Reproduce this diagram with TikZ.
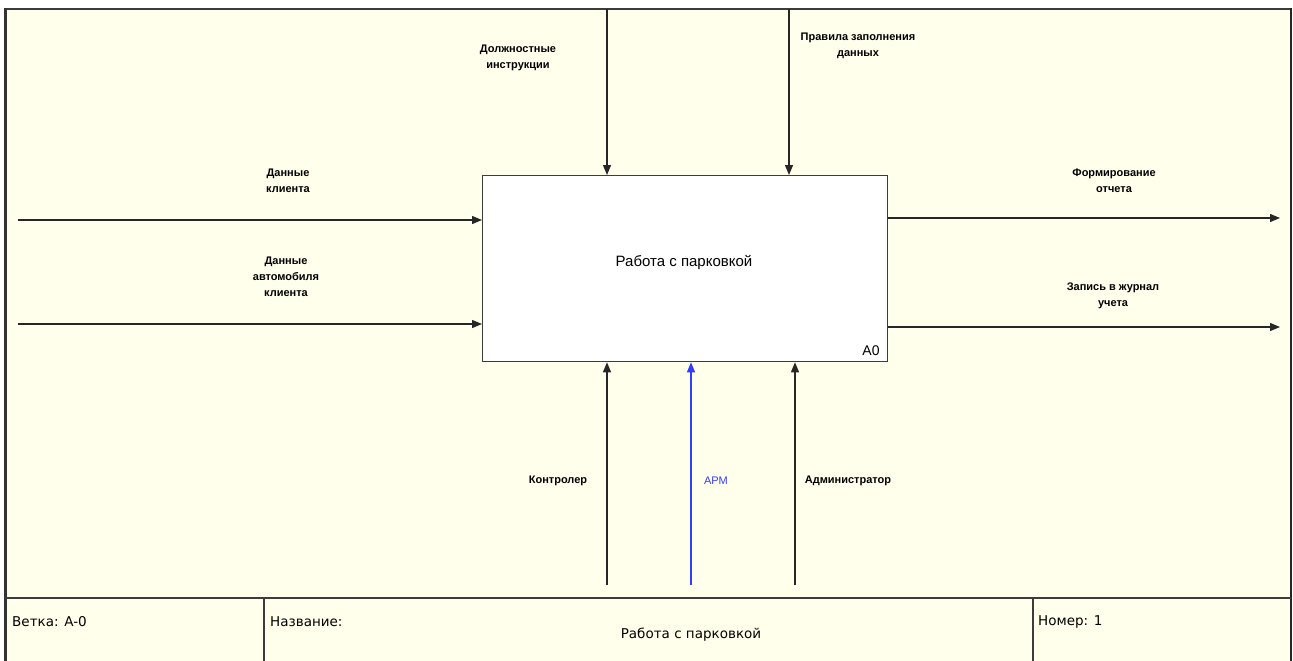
\documentclass[tikz,border=0pt]{standalone}
\usepackage{fontspec}
\setmainfont{Liberation Sans}
\newfontfamily\formfont{DejaVu Sans}
\usetikzlibrary{arrows.meta}
\definecolor{sheet}{RGB}{255,255,236}
\definecolor{edge}{RGB}{60,60,60}
\definecolor{mech}{RGB}{50,60,255}
\tikzset{
	arr/.style={-{Triangle[length=10pt,width=8pt]}, line width=1.2pt, draw=black!85},
	lbl/.style={font=\bfseries\fontsize{11}{16}\selectfont, align=center, inner sep=0pt},
	formtext/.style={font=\formfont\fontsize{13.5}{16}\selectfont, inner sep=0pt}
}
\begin{document}
\begin{tikzpicture}[x=1pt, y=-1pt]

	\useasboundingbox (0,0) rectangle (1293,661);
	\fill [sheet] (5,9) rectangle (1291,661);
	\draw [line width=2pt, draw=edge] (4,9) -- (1292,9);
	\draw [line width=3pt, draw=black!80] (5.5,8) -- (5.5,661);
	\draw [line width=2pt, draw=black!85] (1291,8) -- (1291,661);
	\draw [line width=1.5pt, draw=edge] (5,598) -- (1291,598);
	\draw [line width=1.5pt, draw=edge] (264,598) -- (264,661);
	\draw [line width=1.5pt, draw=edge] (1033,598) -- (1033,661);

	\node [draw=edge, line width=1.3pt, fill=white, minimum width=405pt, minimum height=186pt, anchor=north west, inner sep=0pt] (act) at (482,175) {};
	\node [font=\fontsize{15}{18}\selectfont, inner sep=0pt] (actname) at (684,262) {Работа с парковкой};
	\node [font=\fontsize{14}{16}\selectfont, inner sep=0pt] (actnum) at (871,351) {A0};

	\coordinate (in1) at (18,220);
	\coordinate (in2) at (18,324);
	\coordinate (ctl1) at (607,9);
	\coordinate (ctl2) at (789,9);
	\coordinate (out1) at (1280,218);
	\coordinate (out2) at (1280,327);
	\coordinate (mec1) at (607,585);
	\coordinate (mec2) at (691,585);
	\coordinate (mec3) at (795,585);

	\draw [arr] (in1) -- (in1 -| act.west);
	\draw [arr] (in2) -- (in2 -| act.west);
	\draw [arr] (ctl1) -- (ctl1 |- act.north);
	\draw [arr] (ctl2) -- (ctl2 |- act.north);
	\draw [arr] (out1 -| act.east) -- (out1);
	\draw [arr] (out2 -| act.east) -- (out2);
	\draw [arr] (mec1) -- (mec1 |- act.south);
	\draw [arr, draw=mech, -{Triangle[length=10pt,width=8pt,fill=mech]}] (mec2) -- (mec2 |- act.south);
	\draw [arr] (mec3) -- (mec3 |- act.south);

	\node [lbl] (lin1) at (288,181) {Данные\\клиента};
	\node [lbl] (lin2) at (286,277) {Данные\\автомобиля\\клиента};
	\node [lbl] (lctl1) at (518,58) {Должностные\\инструкции};
	\node [lbl] (lctl2) at (858,46) {Правила заполнения\\данных};
	\node [lbl] (lout1) at (1114,181) {Формирование\\отчета};
	\node [lbl] (lout2) at (1113,296) {Запись в журнал\\учета};
	\node [lbl] (lmec1) at (558,481) {Контролер};
	\node [lbl, text=mech, font=\fontsize{11}{16}\selectfont] (lmec2) at (716,481) {АРМ};
	\node [lbl] (lmec3) at (848,481) {Администратор};

	\node [formtext, anchor=west] (branch) at (12,622) {Ветка: A-0};
	\node [formtext, anchor=west] (title) at (270,622) {Название:};
	\node [formtext] (titletext) at (691,635) {Работа с парковкой};
	\node [formtext, anchor=west] (number) at (1038,622) {Номер: 1};
\end{tikzpicture}
\end{document}
